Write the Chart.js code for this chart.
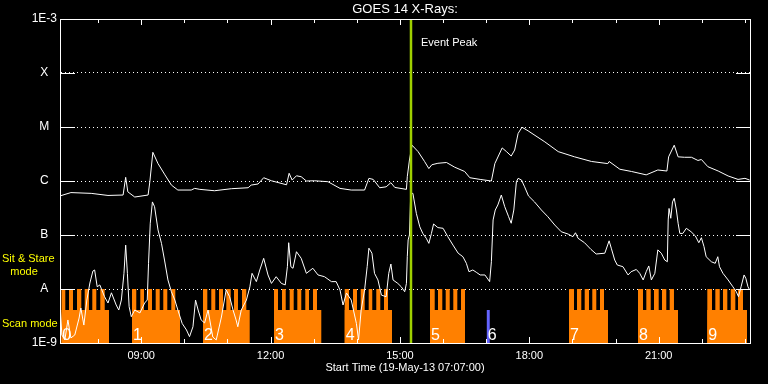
<!DOCTYPE html>
<html>
<head>
<meta charset="utf-8">
<script src="https://cdn.jsdelivr.net/npm/chart.js@4.4.0/dist/chart.umd.min.js"></script>
<style>
  html, body { margin: 0; padding: 0; background: #000; }
</style>
</head>
<body>
<canvas id="goes" width="768" height="384"></canvas>
<script>
// GOES 14 long channel (1-8 A), hours since 00:00 UT / W m^-2
const longTimes = [
  7.12, 7.37, 7.84, 8.23, 8.58, 8.64, 8.69, 8.85, 9.16, 9.20,
  9.27, 9.39, 9.55, 9.70, 9.85, 10.16, 10.24, 10.36, 10.70, 11.09,
  11.48, 11.55, 11.71, 11.84, 12.02, 12.37, 12.43, 12.50, 12.60, 12.71,
  12.83, 13.02, 13.33, 13.61, 13.87, 14.18, 14.28, 14.38, 14.53, 14.68,
  14.79, 14.88, 15.15, 15.17, 15.22, 15.28, 15.42, 15.57, 15.67, 15.74,
  15.88, 16.08, 16.27, 16.50, 16.62, 16.86, 17.12, 17.20, 17.37, 17.47,
  17.58, 17.66, 17.74, 17.83, 17.97, 18.36, 18.67, 19.05, 19.44, 19.82,
  19.85, 20.10, 20.37, 20.71, 20.98, 21.19, 21.23, 21.36, 21.45, 21.60,
  21.76, 21.91, 21.99, 22.14, 22.38, 22.61, 22.84, 23.00, 23.11
];
const longFlux = [
  5.3e-7, 6.1e-7, 5.9e-7, 5.4e-7, 5.5e-7, 1.17e-6, 6.3e-7, 5.05e-7, 5.5e-7, 9.7e-7,
  3.4e-6, 2.1e-6, 1.3e-6, 8.4e-7, 6.8e-7, 6.8e-7, 7.3e-7, 7.0e-7, 6.6e-7, 7.2e-7,
  7.5e-7, 8.4e-7, 8.8e-7, 1.15e-6, 1.01e-6, 8.5e-7, 1.39e-6, 1.04e-6, 1.25e-6, 1.2e-6,
  1.0e-6, 1.01e-6, 9.7e-7, 7.3e-7, 6.8e-7, 6.8e-7, 1.12e-6, 1.07e-6, 7.5e-7, 7.8e-7,
  9.3e-7, 7.6e-7, 7.0e-7, 1.2e-6, 2.45e-6, 4.6e-6, 3.5e-6, 2.3e-6, 1.7e-6, 2.0e-6,
  2.13e-6, 2.2e-6, 1.8e-6, 1.5e-6, 1.15e-6, 1.07e-6, 1.0e-6, 2.1e-6, 4.1e-6, 3.5e-6,
  2.9e-6, 3.75e-6, 7.6e-6, 9.9e-6, 8.5e-6, 5.3e-6, 3.5e-6, 2.8e-6, 2.3e-6, 2.1e-6,
  2.3e-6, 1.65e-6, 1.5e-6, 1.3e-6, 1.6e-6, 1.53e-6, 2.8e-6, 4.6e-6, 2.8e-6, 2.75e-6,
  2.75e-6, 2.4e-6, 2.5e-6, 1.84e-6, 1.53e-6, 1.24e-6, 1.07e-6, 1.12e-6, 1.04e-6
];

// short channel (0.5-4 A)
const shortTimes = [
  7.12, 7.16, 7.23, 7.30, 7.37, 7.46, 7.56, 7.60, 7.67, 7.74,
  7.81, 7.88, 7.92, 7.98, 8.04, 8.15, 8.23, 8.31, 8.42, 8.48,
  8.54, 8.60, 8.64, 8.68, 8.72, 8.77, 8.85, 8.97, 9.08, 9.14,
  9.17, 9.21, 9.26, 9.31, 9.39, 9.47, 9.54, 9.62, 9.70, 9.78,
  9.85, 9.95, 10.05, 10.12, 10.20, 10.26, 10.32, 10.39, 10.47, 10.55,
  10.66, 10.74, 10.86, 10.97, 11.05, 11.13, 11.20, 11.24, 11.32, 11.44,
  11.52, 11.57, 11.67, 11.75, 11.84, 11.94, 12.02, 12.13, 12.25, 12.34,
  12.39, 12.42, 12.47, 12.52, 12.60, 12.71, 12.83, 12.98, 13.10, 13.25,
  13.41, 13.52, 13.61, 13.68, 13.76, 13.87, 13.99, 14.04, 14.10, 14.18,
  14.24, 14.28, 14.35, 14.41, 14.49, 14.57, 14.68, 14.74, 14.79, 14.84,
  14.95, 15.03, 15.11, 15.15, 15.17, 15.19, 15.22, 15.25, 15.30, 15.38,
  15.46, 15.53, 15.61, 15.67, 15.73, 15.78, 15.88, 16.00, 16.11, 16.23,
  16.35, 16.46, 16.54, 16.60, 16.69, 16.77, 16.86, 16.97, 17.08, 17.12,
  17.16, 17.21, 17.27, 17.35, 17.43, 17.52, 17.58, 17.64, 17.70, 17.74,
  17.82, 17.89, 17.98, 18.12, 18.28, 18.43, 18.59, 18.74, 18.90, 19.01,
  19.07, 19.13, 19.28, 19.43, 19.55, 19.75, 19.85, 19.90, 19.98, 20.04,
  20.17, 20.29, 20.36, 20.48, 20.56, 20.64, 20.71, 20.77, 20.83, 20.91,
  20.98, 21.06, 21.14, 21.20, 21.22, 21.24, 21.28, 21.32, 21.36, 21.41,
  21.45, 21.49, 21.56, 21.64, 21.75, 21.85, 21.93, 21.99, 22.05, 22.10,
  22.22, 22.31, 22.37, 22.41, 22.49, 22.61, 22.72, 22.80, 22.85, 22.91,
  22.98, 23.02, 23.07, 23.11
];
const shortFlux = [
  5.05e-9, 1.41e-9, 1.14e-9, 2.67e-9, 1.24e-9, 1.41e-9, 2.9e-9, 4.45e-9, 2.15e-9, 6.25e-9,
  1.29e-8, 2.15e-8, 2.25e-8, 1.1e-8, 1.19e-8, 7.2e-9, 5.5e-9, 8.5e-9, 5.05e-9, 4.08e-9,
  6.25e-9, 1.95e-8, 6.5e-8, 1.95e-8, 4.7e-9, 3.07e-9, 4.08e-9, 3.6e-9, 5.5e-9, 6.25e-9,
  2.99e-8, 1.65e-7, 4.1e-7, 3.34e-7, 1.24e-7, 7.0e-8, 3.44e-8, 1.47e-8, 8.9e-9, 6.25e-9,
  4.08e-9, 2.3e-9, 1.74e-9, 1.31e-9, 2.0e-9, 6.25e-9, 4.08e-9, 2.67e-9, 2.35e-9, 4.08e-9,
  1.29e-9, 1.14e-9, 3.03e-9, 9.6e-9, 7.2e-9, 4.08e-9, 2.67e-9, 2.0e-9, 4.08e-9, 6.25e-9,
  1.1e-8, 1.95e-8, 1.37e-8, 2.25e-8, 3.7e-8, 1.82e-8, 1.27e-8, 1.69e-8, 1.27e-8, 1.19e-8,
  2.59e-8, 7.2e-8, 2.59e-8, 2.42e-8, 4.9e-8, 3.7e-8, 1.95e-8, 2.42e-8, 1.82e-8, 1.69e-8,
  1.37e-8, 1.37e-8, 9.6e-9, 5.05e-9, 8.43e-9, 6.25e-9, 2.3e-9, 1.14e-9, 4.08e-9, 9.6e-9,
  2.59e-8, 5.7e-8, 4.6e-8, 1.95e-8, 1.47e-8, 7.7e-9, 7.2e-9, 1.95e-8, 2.9e-8, 1.47e-8,
  1.27e-8, 1.1e-8, 8.9e-9, 1.27e-8, 3.96e-8, 8.1e-8, 1.0e-7, 5.9e-7, 5.9e-7, 2.52e-7,
  1.42e-7, 1.07e-7, 8.7e-8, 7.0e-8, 1.07e-7, 1.6e-7, 1.37e-7, 1.33e-7, 9.3e-8, 6.5e-8,
  4.6e-8, 3.96e-8, 2.99e-8, 2.09e-8, 2.25e-8, 2.04e-8, 1.82e-8, 1.82e-8, 1.37e-8, 3.2e-8,
  1.9e-7, 2.9e-7, 3.6e-7, 5.5e-7, 3.34e-7, 2.18e-7, 1.65e-7, 2.9e-7, 9.7e-7, 1.12e-6,
  1.04e-6, 7.8e-7, 5.3e-7, 4.1e-7, 2.9e-7, 2.18e-7, 1.53e-7, 1.15e-7, 1.04e-7, 9.3e-8,
  1.1e-7, 8.7e-8, 7.2e-8, 5.4e-8, 4.45e-8, 4.6e-8, 7.8e-8, 5.7e-8, 3.44e-8, 2.78e-8,
  2.59e-8, 1.82e-8, 2.09e-8, 2.3e-8, 1.95e-8, 1.47e-8, 2.09e-8, 2.67e-8, 1.47e-8, 1.95e-8,
  5.3e-8, 4.6e-8, 3.44e-8, 3.2e-8, 1.9e-7, 3.1e-7, 2.04e-7, 4.1e-7, 4.78e-7, 2.9e-7,
  1.65e-7, 1.07e-7, 1.07e-7, 1.33e-7, 1.15e-7, 9.6e-8, 7.2e-8, 8.9e-8, 6.1e-8, 3.96e-8,
  3.2e-8, 2.99e-8, 3.96e-8, 2.59e-8, 1.95e-8, 1.47e-8, 1.1e-8, 8.9e-9, 7.2e-9, 1.1e-8,
  1.82e-8, 1.58e-8, 1.1e-8, 9.6e-9
];

// observing mode blocks (orange = scan, teeth = sit & stare, blue = other scan)
const scanStart = [7.147, 8.786, 10.433, 12.079, 13.719, 15.697, 18.920, 20.520, 22.127];
const scanEnd   = [8.253, 9.900, 11.516, 13.176, 14.815, 16.508, 19.825, 21.447, 23.048];
const stareOn = [
  7.147, 7.326, 7.511, 7.690, 7.866, 8.051,
  8.786, 8.979, 9.158, 9.336, 9.512, 9.698,
  10.433, 10.625, 10.804, 10.973, 11.152, 11.337,
  12.079, 12.265, 12.443, 12.620, 12.805, 12.984,
  13.719, 13.911, 14.089, 14.275, 14.451, 14.630,
  15.697, 15.882, 16.061, 16.237, 16.416,
  18.920, 19.105, 19.284, 19.460, 19.639,
  20.520, 20.713, 20.891, 21.076, 21.255,
  22.127, 22.313, 22.491, 22.670, 22.839
];
const stareOff = [
  7.240, 7.418, 7.611, 7.789, 7.959, 8.154,
  8.886, 9.065, 9.250, 9.429, 9.605, 9.791,
  10.533, 10.718, 10.897, 11.075, 11.245, 11.437,
  12.172, 12.351, 12.536, 12.712, 12.891, 13.076,
  13.818, 14.004, 14.182, 14.358, 14.544, 14.723,
  15.806, 15.982, 16.154, 16.330, 16.508,
  19.036, 19.205, 19.384, 19.553, 19.732,
  20.636, 20.815, 21.000, 21.176, 21.354,
  22.236, 22.415, 22.591, 22.777, 22.955
];
const blueStart = [17.008];
const blueEnd = [17.085];
const blockLabels = ['0', '1', '2', '3', '4', '5', '6', '7', '8', '9'];
const blockLabelTimes = [7.147, 8.786, 10.433, 12.079, 13.719, 15.697, 17.01, 18.920, 20.520, 22.127];

const scanLevel = 4.1e-9;
const stareLevel = 1e-8;
const eventPeakTime = 15.256;

const hourTicks = [9, 12, 15, 18, 21];
const fluxTicks = [1e-9, 1e-8, 1e-7, 1e-6, 1e-5, 1e-4, 1e-3];
const fluxLabels = ['1E-9', 'A', 'B', 'C', 'M', 'X', '1E-3'];

const X_MIN = 7.117, X_MAX = 23.117;
const Y_MIN = 1e-9, Y_MAX = 1e-3;

const FONT = "'Liberation Sans', Arial, sans-serif";
Chart.defaults.font.family = FONT;

const toPoints = (xs, ys) => xs.map((t, i) => ({ x: t, y: ys[i] }));

// stepped outline: up at each start, back to floor at each end
function steps(starts, ends, level) {
  const pts = [];
  starts.forEach((s, i) => {
    pts.push({ x: s, y: level });
    pts.push({ x: ends[i], y: Y_MIN });
  });
  return pts;
}

const modeStyle = color => ({
  stepped: true,
  fill: 'start',
  backgroundColor: color,
  borderColor: 'rgba(0,0,0,0)',
  borderWidth: 1,
  pointRadius: 0,
  order: 5
});

const overlay = {
  id: 'overlay',
  beforeDraw(chart) {
    const ctx = chart.ctx;
    ctx.save();
    ctx.fillStyle = '#000';
    ctx.fillRect(0, 0, chart.width, chart.height);
    ctx.restore();
  },
  afterDatasetsDraw(chart) {
    const { ctx, chartArea: a, scales: { x, y } } = chart;
    ctx.save();
    ctx.strokeStyle = '#fff';
    ctx.lineWidth = 1;
    ctx.strokeRect(a.left + 0.5, a.top + 0.5, a.right - a.left, a.bottom - a.top);

    ctx.beginPath();
    fluxTicks.forEach(v => {
      const py = Math.round(y.getPixelForValue(v)) + 0.5;
      ctx.moveTo(a.left, py); ctx.lineTo(a.left + 15, py);
      ctx.moveTo(a.right - 14, py); ctx.lineTo(a.right, py);
    });
    for (let h = Math.ceil(X_MIN); h <= X_MAX; h++) {
      const px = Math.round(x.getPixelForValue(h)) + 0.5;
      const len = h % 3 === 0 ? 6 : 4;
      ctx.moveTo(px, a.top); ctx.lineTo(px, a.top + len);
      ctx.moveTo(px, a.bottom); ctx.lineTo(px, a.bottom - len);
    }
    ctx.stroke();

    // block numbers
    ctx.fillStyle = '#fff';
    ctx.font = '16px ' + FONT;
    ctx.textAlign = 'left';
    ctx.textBaseline = 'alphabetic';
    blockLabels.forEach((lab, i) => {
      ctx.fillText(lab, x.getPixelForValue(blockLabelTimes[i]) + 1, 340);
    });

    ctx.font = '11px ' + FONT;
    ctx.textBaseline = 'middle';
    ctx.fillText('Event Peak', x.getPixelForValue(eventPeakTime) + 10, 43);
    ctx.restore();
  },
  afterDraw(chart) {
    const { ctx, chartArea: a } = chart;
    ctx.save();
    ctx.fillStyle = '#fff';
    ctx.font = '13px ' + FONT;
    ctx.textAlign = 'center';
    ctx.textBaseline = 'middle';
    ctx.fillText('GOES 14 X-Rays:', (a.left + a.right) / 2, 9);

    ctx.fillStyle = '#ffff00';
    ctx.font = '11px ' + FONT;
    ctx.textAlign = 'left';
    ctx.fillText('Sit & Stare', 2, 259);
    ctx.fillText('Scan mode', 2, 324);
    ctx.textAlign = 'center';
    ctx.fillText('mode', 24, 272);
    ctx.restore();
  }
};

new Chart(document.getElementById('goes'), {
  type: 'line',
  data: {
    datasets: [
      {
        label: 'Event Peak',
        data: [{ x: eventPeakTime, y: Y_MIN }, { x: eventPeakTime, y: Y_MAX }],
        borderColor: '#9fd000',
        borderWidth: 2.5,
        pointRadius: 0,
        order: 0
      },
      {
        label: '1-8 A',
        data: toPoints(longTimes, longFlux),
        borderColor: '#ffffff',
        borderWidth: 1,
        pointRadius: 0,
        order: 1
      },
      {
        label: '0.5-4 A',
        data: toPoints(shortTimes, shortFlux),
        borderColor: '#ffffff',
        borderWidth: 1,
        pointRadius: 0,
        order: 1
      },
      { label: 'Sit & Stare', data: steps(stareOn, stareOff, stareLevel), ...modeStyle('#ff8000') },
      { label: 'Scan', data: steps(scanStart, scanEnd, scanLevel), ...modeStyle('#ff8000') },
      { label: 'Scan (other)', data: steps(blueStart, blueEnd, scanLevel), ...modeStyle('#6464ff') }
    ]
  },
  options: {
    responsive: false,
    animation: false,
    events: [],
    layout: { padding: { top: 19, right: 18, left: 0, bottom: 0 } },
    plugins: { legend: { display: false }, tooltip: { enabled: false }, title: { display: false } },
    scales: {
      x: {
        type: 'linear',
        min: X_MIN,
        max: X_MAX,
        grid: { display: false, drawTicks: false },
        border: { display: true, color: '#fff', width: 1 },
        afterBuildTicks: s => { s.ticks = hourTicks.map(v => ({ value: v })); },
        afterFit: s => { s.height = 41; },
        ticks: {
          color: '#fff',
          font: { size: 11 },
          padding: 6,
          maxRotation: 0,
          autoSkip: false,
          callback: v => (v < 10 ? '0' : '') + v + ':00'
        },
        title: {
          display: true,
          text: 'Start Time (19-May-13 07:07:00)',
          color: '#fff',
          font: { size: 11 },
          padding: { top: 0, bottom: 9 }
        }
      },
      y: {
        type: 'logarithmic',
        min: Y_MIN,
        max: Y_MAX,
        grid: { color: '#fff', lineWidth: 1, drawTicks: false },
        border: { display: true, color: '#fff', width: 1, dash: [1, 3] },
        afterBuildTicks: s => { s.ticks = fluxTicks.map(v => ({ value: v })); },
        afterFit: s => { s.width = 60; },
        ticks: {
          color: '#fff',
          font: { size: 12 },
          padding: 3,
          crossAlign: 'center',
          callback: (v, i) => fluxLabels[i]
        }
      }
    }
  },
  plugins: [overlay]
});
</script>
</body>
</html>
